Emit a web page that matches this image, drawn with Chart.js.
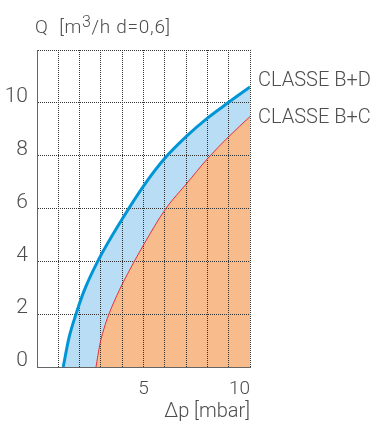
<!DOCTYPE html>
<html>
<head>
<meta charset="utf-8">
<script src="https://cdn.jsdelivr.net/npm/chart.js@4"></script>
<style>
  html, body { margin: 0; padding: 0; background: #fff; }
  #wrap { width: 375px; height: 426px; }
</style>
</head>
<body>
<div id="wrap"><canvas id="flowChart" width="375" height="426"></canvas></div>
<script>
// curve names
const seriesNames = ['CLASSE B+D', 'CLASSE B+C'];

// CLASSE B+D  (dp in mbar, Q in m3/h)
const dpBD = [1.23, 1.5, 1.83, 2.22, 2.85, 4,   5,    6,   7,    8,    9,     10];
const qBD  = [0,    1.1, 2,    2.9,  4,    5.6, 6.85, 7.9, 8.72, 9.42, 10.02, 10.6];

// CLASSE B+C
const dpBC = [2.77, 2.95, 3.2, 3.4,  3.86, 4.4,  5.0,  6.05, 7,    8,    9,    10];
const qBC  = [0,    0.85, 1.6, 2.05, 2.9,  3.75, 4.62, 6,    6.92, 7.88, 8.72, 9.48];

// tick labels
const xTickLabels = [5, 10];
const yTickLabels = [0, 2, 4, 6, 8, 10];

const axisTitleY = 'Q  [m';
const axisTitleYSup = '3';
const axisTitleYRest = '/h d=0,6]';
const axisTitleX = '\u0394p [mbar]';

const textColor = '#4d4d4d';
const fontFam = 'Roboto, "Liberation Sans", sans-serif';

function toPoints(xs, ys) {
    return xs.map((x, i) => ({ x: x, y: ys[i] }));
}

// titles and curve labels
const textPlugin = {
    id: 'textPlugin',
    afterDraw(chart) {
        const ctx = chart.ctx;
        const area = chart.chartArea;
        const ys = chart.scales.y;
        ctx.save();
        ctx.fillStyle = textColor;
        ctx.textBaseline = 'alphabetic';

        // y title with superscript
        ctx.letterSpacing = '0.7px';
        ctx.font = '300 19px ' + fontFam;
        let x = 35;
        ctx.fillText(axisTitleY, x, 33);
        x += ctx.measureText(axisTitleY).width;
        ctx.font = '300 16px ' + fontFam;
        ctx.fillText(axisTitleYSup, x, 26.5);
        x += ctx.measureText(axisTitleYSup).width;
        ctx.font = '300 19px ' + fontFam;
        ctx.fillText(axisTitleYRest, x, 33);
        ctx.letterSpacing = '0px';

        // x title
        ctx.font = '300 20px ' + fontFam;
        ctx.textAlign = 'right';
        ctx.fillText(axisTitleX, area.right, 417);

        // curve labels
        ctx.font = '300 20px ' + fontFam;
        ctx.textAlign = 'left';
        ctx.textBaseline = 'middle';
        ctx.fillText(seriesNames[0], area.right + 8, ys.getPixelForValue(qBD[qBD.length - 1]) - 6);
        ctx.fillText(seriesNames[1], area.right + 8, ys.getPixelForValue(qBC[qBC.length - 1]) + 1);
        ctx.restore();
    }
};

const flowCtx = document.getElementById('flowChart').getContext('2d');
const flowChart = new Chart(flowCtx, {
    type: 'line',
    data: {
        datasets: [{
            label: seriesNames[0],
            data: toPoints(dpBD, qBD),
            borderColor: '#0096d6',
            borderWidth: 3,
            backgroundColor: '#b9ddf5',
            fill: 'origin',
            pointRadius: 0,
            cubicInterpolationMode: 'monotone',
            order: 2
        }, {
            label: seriesNames[1],
            data: toPoints(dpBC, qBC),
            borderColor: '#e8303a',
            borderWidth: 1,
            backgroundColor: '#f8bb8c',
            fill: 'origin',
            pointRadius: 0,
            cubicInterpolationMode: 'monotone',
            order: 1
        }]
    },
    options: {
        responsive: false,
        animation: false,
        events: [],
        layout: {
            padding: { top: 50, right: 125, left: 0, bottom: 0 }
        },
        plugins: {
            legend: { display: false },
            tooltip: { enabled: false },
            filler: { drawTime: 'beforeDraw' }
        },
        scales: {
            x: {
                type: 'linear',
                min: 0,
                max: 10,
                afterFit: (scale) => { scale.height = 59; },
                grid: {
                    color: '#333',
                    drawTicks: false
                },
                border: {
                    color: '#666',
                    width: 1,
                    dash: [1, 1]
                },
                ticks: {
                    stepSize: 1,
                    autoSkip: false,
                    maxRotation: 0,
                    align: 'inner',
                    padding: 11,
                    color: textColor,
                    font: { family: fontFam, size: 19, weight: 300 },
                    callback: (value) => xTickLabels.includes(value) ? value : ''
                }
            },
            y: {
                type: 'linear',
                min: 0,
                max: 12,
                afterFit: (scale) => { scale.width = 37; },
                grid: {
                    color: '#333',
                    drawTicks: false
                },
                border: {
                    color: '#666',
                    width: 1,
                    dash: [1, 1]
                },
                ticks: {
                    stepSize: 2,
                    padding: 9,
                    labelOffset: -6,
                    color: textColor,
                    font: { family: fontFam, size: 21, weight: 300 },
                    callback: (value) => yTickLabels.includes(value) ? value : ''
                }
            }
        }
    },
    plugins: [textPlugin]
});
</script>
</body>
</html>
